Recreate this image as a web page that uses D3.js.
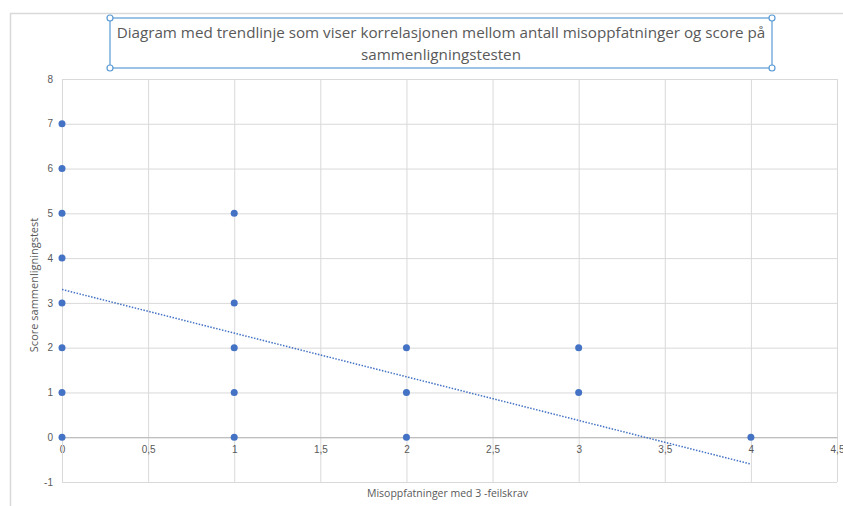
<!DOCTYPE html>
<html>
<head>
<meta charset="utf-8">
<script src="https://cdn.jsdelivr.net/npm/d3@7"></script>
<style>
    body { margin: 0; background: #fff; }
    svg { display: block; font-family: "Open Sans", "Noto Sans", sans-serif; }
</style>
</head>
<body>
<div id="chart"></div>
<script>
(function () {
    'use strict';

    // Points: misconceptions (x) vs. comparison test score (y)
    const misoppfatninger = [0, 0, 0, 0, 0, 0, 0, 0, 1, 1, 1, 1, 1, 2, 2, 2, 3, 3, 4];
    const score = [0, 1, 2, 3, 4, 5, 6, 7, 0, 1, 2, 3, 5, 0, 1, 2, 1, 2, 0];

    // Linear trendline end points (as drawn by the spreadsheet)
    const trendX = [0, 4];
    const trendY = [3.3, -0.6];

    const xTicks = [0, 0.5, 1, 1.5, 2, 2.5, 3, 3.5, 4, 4.5];
    const yTicks = [-1, 0, 1, 2, 3, 4, 5, 6, 7, 8];

    const titleLines = [
        'Diagram med trendlinje som viser korrelasjonen mellom antall misoppfatninger og score på',
        'sammenligningstesten'
    ];
    const xTitle = 'Misoppfatninger med 3 -feilskrav';
    const yTitle = 'Score sammenligningstest';

    const W = 843, H = 506;
    const margin = {top: 79, right: 6, bottom: 24, left: 62};
    const cW = W - margin.left - margin.right;
    const cH = H - margin.top - margin.bottom;

    const svg = d3.select('#chart').append('svg').attr('width', W).attr('height', H);

    // Outer chart frame (cropped on right/bottom)
    svg.append('path')
        .attr('d', `M10.5,${H} V13.5 H${W}`)
        .attr('fill', 'none').attr('stroke', '#d9d9d9').attr('stroke-width', 1.5);

    const g = svg.append('g').attr('transform', `translate(${margin.left},${margin.top})`);

    const xScale = d3.scaleLinear().domain([0, 4.5]).range([0, cW]);
    const yScale = d3.scaleLinear().domain([-1, 8]).range([cH, 0]);
    const fmt = d => String(d).replace('.', ',');

    // Gridlines
    g.append('g')
        .call(d3.axisBottom(xScale).tickValues(xTicks).tickSize(cH).tickFormat(''))
        .call(gg => {
            gg.select('.domain').remove();
            gg.selectAll('line').attr('stroke', '#d9d9d9');
        });
    g.append('g')
        .call(d3.axisLeft(yScale).tickValues(yTicks).tickSize(-cW).tickFormat(''))
        .call(gg => {
            gg.select('.domain').remove();
            gg.selectAll('line').attr('stroke', '#d9d9d9');
        });

    // Value axis at y = 0
    g.append('g').attr('transform', `translate(0,${yScale(0)})`)
        .call(d3.axisBottom(xScale).tickValues(xTicks).tickSize(0).tickPadding(9).tickFormat(fmt))
        .call(gg => {
            gg.select('.domain').attr('stroke', '#bfbfbf').attr('stroke-width', 1.2);
            gg.selectAll('text').attr('fill', '#595959').attr('font-size', '10px');
        });
    g.append('g')
        .call(d3.axisLeft(yScale).tickValues(yTicks).tickSize(0).tickPadding(9).tickFormat(fmt))
        .call(gg => {
            gg.select('.domain').attr('stroke', '#d9d9d9');
            gg.selectAll('text').attr('fill', '#595959').attr('font-size', '10px');
        });

    // Trendline (dotted)
    const trend = trendX.map((x, i) => [x, trendY[i]]);
    g.append('path')
        .datum(trend)
        .attr('d', d3.line().x(d => xScale(d[0])).y(d => yScale(d[1])))
        .attr('fill', 'none').attr('stroke', '#4472c4')
        .attr('stroke-width', 1.5).attr('stroke-dasharray', '1.5 1.5');

    // Points
    g.append('g').selectAll('circle')
        .data(misoppfatninger.map((x, i) => [x, score[i]]))
        .join('circle')
        .attr('cx', d => xScale(d[0])).attr('cy', d => yScale(d[1]))
        .attr('r', 3.5).attr('fill', '#4472c4');

    // Axis titles
    svg.append('text')
        .attr('x', margin.left + cW / 2 - 2).attr('y', 497)
        .attr('text-anchor', 'middle').attr('font-size', '10.5px').attr('fill', '#595959')
        .text(xTitle);
    svg.append('text')
        .attr('transform', `translate(38,${margin.top + yScale(3.4)}) rotate(-90)`)
        .attr('text-anchor', 'middle').attr('font-size', '11px').attr('fill', '#595959')
        .text(yTitle);

    // Title box with selection handles
    const box = {x: 110, y: 18, w: 662, h: 50};
    svg.append('rect')
        .attr('x', box.x).attr('y', box.y).attr('width', box.w).attr('height', box.h)
        .attr('fill', '#fff').attr('stroke', '#5b9bd5').attr('stroke-width', 1.2);
    [[box.x, box.y], [box.x + box.w, box.y], [box.x, box.y + box.h], [box.x + box.w, box.y + box.h]]
        .forEach(([cx, cy]) => {
            svg.append('circle').attr('cx', cx).attr('cy', cy).attr('r', 3)
                .attr('fill', '#fff').attr('stroke', '#5b9bd5').attr('stroke-width', 1.2);
        });
    svg.append('text')
        .attr('x', box.x + box.w / 2).attr('text-anchor', 'middle')
        .attr('font-size', '15.2px').attr('fill', '#595959')
        .selectAll('tspan').data(titleLines).join('tspan')
        .attr('x', box.x + box.w / 2)
        .attr('y', (d, i) => 38 + i * 22)
        .text(d => d);
})();
</script>
</body>
</html>
